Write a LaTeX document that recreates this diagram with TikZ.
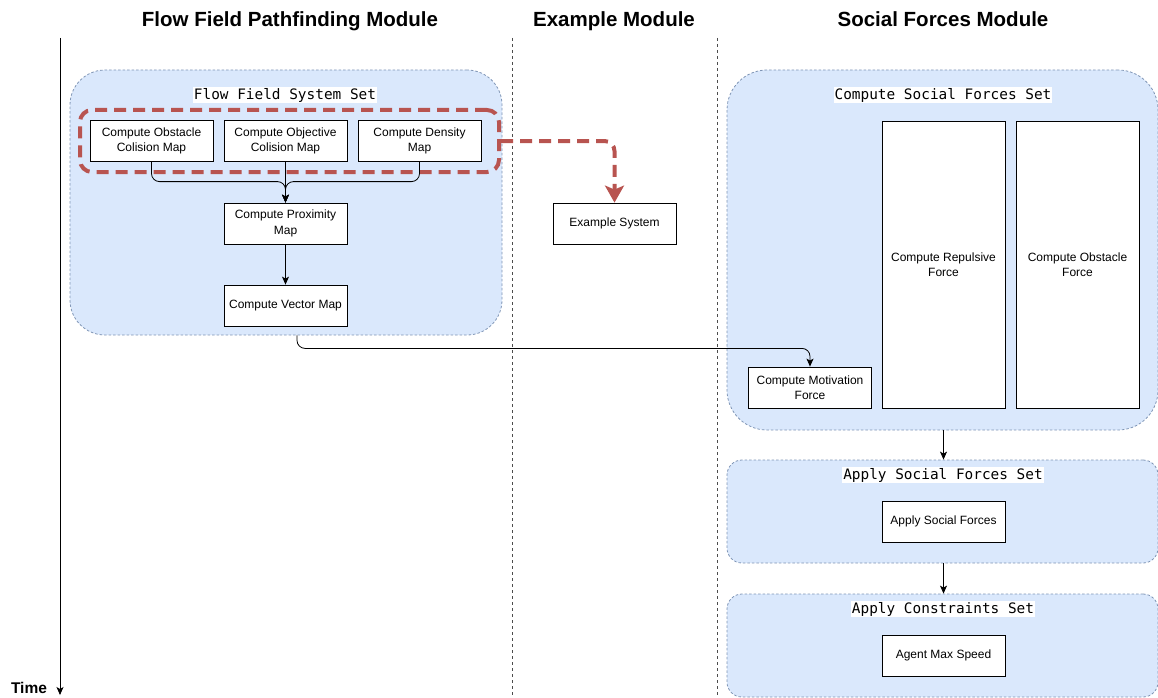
\documentclass[tikz,border=0pt]{standalone}
\usepackage{fontspec}
\setmainfont{Liberation Sans}
\newfontfamily\monofont{DejaVu Sans Mono}
\usetikzlibrary{arrows.meta,calc}
\definecolor{setfill}{HTML}{DAE8FC}
\definecolor{setline}{HTML}{7F95B5}
\definecolor{redline}{HTML}{B85450}
\begin{document}
\begin{tikzpicture}[x=1pt,y=-1pt,
 setbox/.style={draw=setline, fill=setfill, line width=0.8pt, dash pattern=on 2.5pt off 2pt, rounded corners=35pt, inner sep=0pt},
 setlabel/.style={fill=white, inner sep=1pt, font=\monofont\fontsize{14.4}{16}\selectfont},
 sysbox/.style={draw=black, fill=white, line width=0.8pt, minimum width=123pt, minimum height=41pt, align=center, inner sep=2pt, font=\fontsize{12}{15.5}\selectfont},
 title/.style={anchor=base, font=\bfseries\fontsize{20.5}{24}\selectfont},
 conn/.style={draw=black, line width=0.8pt, -{Stealth[length=8pt,width=7pt,inset=2pt]}, rounded corners=8pt},
 sep/.style={draw=black!70, line width=0.8pt, dash pattern=on 3pt off 3pt},
 redbox/.style={draw=redline, line width=4pt, dash pattern=on 12pt off 7pt, rounded corners=12pt, inner sep=0pt},
 redarrow/.style={draw=redline, line width=4pt, dash pattern=on 12pt off 7pt, rounded corners=10pt, -{Stealth[length=17pt,width=19pt,inset=4pt]}},
]
\useasboundingbox (0,0) rectangle (1158,698);

% titles
\node[title] (t1) at (290,26.5) {Flow Field Pathfinding Module};
\node[title] (t2) at (614,26.5) {Example Module};
\node[title] (t3) at (943,26.5) {Social Forces Module};

% time axis and separators
\coordinate (ta) at (60,38);
\coordinate (tb) at (60,695);
\draw[conn] (ta) -- (tb);
\node[font=\bfseries\fontsize{15.5}{18}\selectfont] (time) at (29,688) {Time};
\coordinate (s1a) at (512,38);
\coordinate (s1b) at (512,698);
\coordinate (s2a) at (717,38);
\coordinate (s2b) at (717,698);
\draw[sep] (s1a) -- (s1b);
\draw[sep] (s2a) -- (s2b);

% containers
\node[setbox, minimum width=432pt, minimum height=265pt] (ffs) at (286,202.5) {};
\node[setlabel] (ffsl) at (285,95) {Flow Field System Set};
\node[setbox, minimum width=431pt, minimum height=360pt, rounded corners=40pt] (csf) at (942.5,250) {};
\node[setlabel] (csfl) at (943,95) {Compute Social Forces Set};
\node[setbox, minimum width=431pt, minimum height=103pt, rounded corners=15pt] (asf) at (942.5,511.5) {};
\node[setlabel] (asfl) at (943,475) {Apply Social Forces Set};
\node[setbox, minimum width=431pt, minimum height=103pt, rounded corners=15pt] (acs) at (942.5,645.5) {};
\node[setlabel] (acsl) at (943,609) {Apply Constraints Set};

% flow field systems
\node[sysbox] (obs) at (151.5,141) {Compute Obstacle\\Colision Map};
\node[sysbox] (obj) at (285.5,141) {Compute Objective\\Colision Map};
\node[sysbox] (den) at (419.5,141) {Compute Density\\Map};
\node[sysbox] (prox) at (285.5,223.5) {Compute Proximity\\Map};
\node[sysbox] (vec) at (285.5,305.5) {Compute Vector Map};

% example
\node[sysbox] (ex) at (614.5,223.5) {Example System};

% social forces
\node[sysbox] (mot) at (810,387.5) {Compute Motivation\\Force};
\node[sysbox, minimum height=287pt] (rep) at (943.5,264.5) {Compute Repulsive\\Force};
\node[sysbox, minimum height=287pt] (obsf) at (1077.5,264.5) {Compute Obstacle\\Force};
\node[sysbox] (asfb) at (943.5,521.5) {Apply Social Forces};
\node[sysbox] (ams) at (943.5,655.5) {Agent Max Speed};

% red group
\node[redbox, minimum width=419pt, minimum height=62pt] (grp) at (289.5,141) {};
\draw[redarrow] (grp.east) -| (ex.north);

% connectors
\draw[conn] (obs.south) |- ([yshift=21pt]prox.north) -- (prox.north);
\draw[conn] (den.south) |- ([yshift=21pt]prox.north) -- (prox.north);
\draw[conn] (obj.south) -- (prox.north);
\draw[conn] (prox.south) -- (vec.north);
\draw[conn] ([xshift=11pt]ffs.south) -- ++(0,13) -| (mot.north);
\draw[conn] ([xshift=1pt]csf.south) -- (asf.north -| asfb.north);
\draw[conn] ([xshift=1pt]asf.south) -- (acs.north -| ams.north);
\end{tikzpicture}
\end{document}
